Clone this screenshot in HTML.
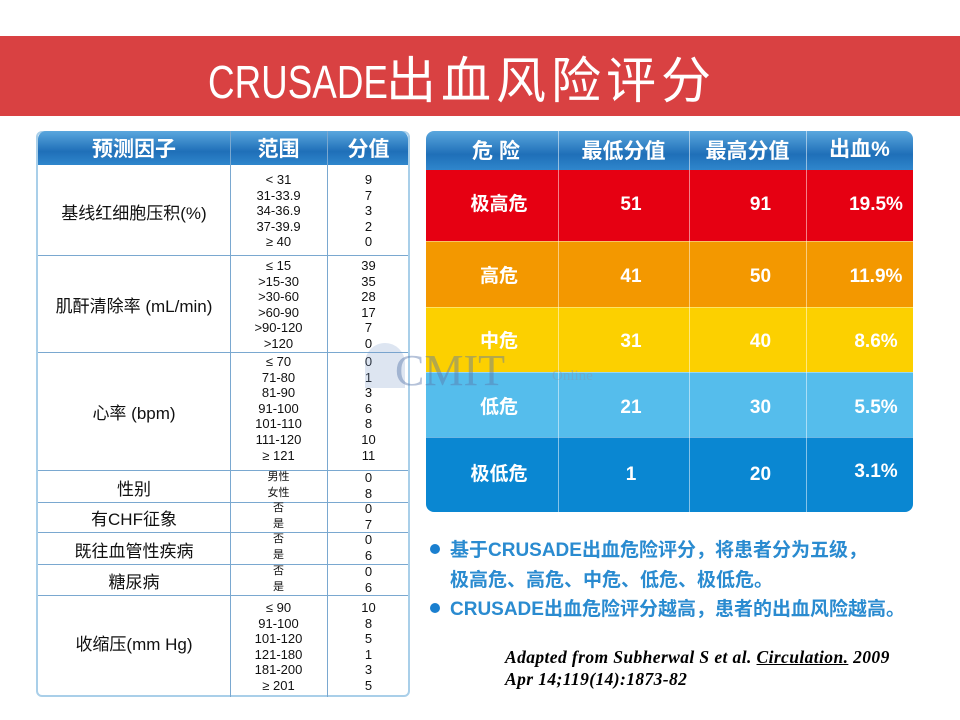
<!DOCTYPE html>
<html><head><meta charset="utf-8"><style>
*{margin:0;padding:0;box-sizing:border-box}
body{width:960px;height:720px;background:#fff;position:relative;overflow:hidden;font-family:"Liberation Sans","Noto Sans CJK SC",sans-serif}
.a{position:absolute}
.bar{left:0;top:36px;width:960px;height:80px;background:#d94142}
.title{left:208px;top:56px;height:50px;color:#fff;line-height:50px;white-space:nowrap}
.lt{left:36px;top:131px;width:374px;height:566px;border:2px solid #a9cfe9;border-radius:6px;background:#fff}
.hdr{background:linear-gradient(#5aa7de,#1f6fb8 60%,#2f86cc);color:#fff;font-weight:bold;text-align:center}
.hl{background:#7aa8d0}
.cell{text-align:center;font-size:13px;line-height:15.6px;color:#111}
.lab{text-align:center;font-size:17px;color:#111}
.rc{color:#fff;font-weight:bold;font-size:19px;line-height:22px;height:22px;text-align:center}
</style></head><body>
<div class="a bar"></div>
<div class="a title"><span style="display:inline-block;transform:scaleX(0.8);transform-origin:left;font-size:46px;width:178px;overflow:visible">CRUSADE</span><span style="font-size:50px;letter-spacing:5px">出血风险评分</span></div>

<!-- left table -->
<div class="a lt"></div>
<div class="a hdr" style="left:38px;top:131px;width:370px;height:34px;border-radius:8px 8px 0 0"></div>
<div class="a" style="left:38px;top:133px;width:192px;text-align:center;color:#fff;font-size:21px;font-weight:bold">预测因子</div>
<div class="a" style="left:230px;top:133px;width:97px;text-align:center;color:#fff;font-size:21px;font-weight:bold">范围</div>
<div class="a" style="left:327px;top:133px;width:83px;text-align:center;color:#fff;font-size:21px;font-weight:bold">分值</div>
<div class="a hl" style="left:230px;top:131px;width:1px;height:566px"></div>
<div class="a hl" style="left:327px;top:131px;width:1px;height:566px"></div>
<div class="a hl" style="left:38px;top:255px;width:370px;height:1px"></div>
<div class="a hl" style="left:38px;top:352px;width:370px;height:1px"></div>
<div class="a hl" style="left:38px;top:470px;width:370px;height:1px"></div>
<div class="a hl" style="left:38px;top:502px;width:370px;height:1px"></div>
<div class="a hl" style="left:38px;top:532px;width:370px;height:1px"></div>
<div class="a hl" style="left:38px;top:564px;width:370px;height:1px"></div>
<div class="a hl" style="left:38px;top:595px;width:370px;height:1px"></div>

<div class="a lab" style="left:38px;top:199px;width:192px">基线红细胞压积(%)</div>
<div class="a cell" style="left:230px;top:172px;width:97px">&lt; 31<br>31-33.9<br>34-36.9<br>37-39.9<br>≥ 40</div>
<div class="a cell" style="left:327px;top:172px;width:83px">9<br>7<br>3<br>2<br>0</div>

<div class="a lab" style="left:38px;top:292px;width:192px">肌酐清除率 (mL/min)</div>
<div class="a cell" style="left:230px;top:258px;width:97px">≤ 15<br>&gt;15-30<br>&gt;30-60<br>&gt;60-90<br>&gt;90-120<br>&gt;120</div>
<div class="a cell" style="left:327px;top:258px;width:83px">39<br>35<br>28<br>17<br>7<br>0</div>

<div class="a lab" style="left:38px;top:399px;width:192px">心率 (bpm)</div>
<div class="a cell" style="left:230px;top:354px;width:97px">≤ 70<br>71-80<br>81-90<br>91-100<br>101-110<br>111-120<br>≥ 121</div>
<div class="a cell" style="left:327px;top:354px;width:83px">0<br>1<br>3<br>6<br>8<br>10<br>11</div>

<div class="a lab" style="left:38px;top:475px;width:192px">性别</div>
<div class="a cell" style="left:230px;top:470px;width:97px;font-size:11px">男性<br>女性</div>
<div class="a cell" style="left:327px;top:470px;width:83px">0<br>8</div>

<div class="a lab" style="left:38px;top:505px;width:192px">有CHF征象</div>
<div class="a cell" style="left:230px;top:501px;width:97px;font-size:11px">否<br>是</div>
<div class="a cell" style="left:327px;top:501px;width:83px">0<br>7</div>

<div class="a lab" style="left:38px;top:537px;width:192px">既往血管性疾病</div>
<div class="a cell" style="left:230px;top:532px;width:97px;font-size:11px">否<br>是</div>
<div class="a cell" style="left:327px;top:532px;width:83px">0<br>6</div>

<div class="a lab" style="left:38px;top:568px;width:192px">糖尿病</div>
<div class="a cell" style="left:230px;top:564px;width:97px;font-size:11px">否<br>是</div>
<div class="a cell" style="left:327px;top:564px;width:83px">0<br>6</div>

<div class="a lab" style="left:38px;top:630px;width:192px">收缩压(mm Hg)</div>
<div class="a cell" style="left:230px;top:600px;width:97px">≤ 90<br>91-100<br>101-120<br>121-180<br>181-200<br>≥ 201</div>
<div class="a cell" style="left:327px;top:600px;width:83px">10<br>8<br>5<br>1<br>3<br>5</div>

<!-- right table -->
<div class="a hdr" style="left:426px;top:131px;width:487px;height:39px;border-radius:8px 8px 0 0"></div>
<div class="a" style="left:426px;top:170px;width:487px;height:71px;background:#e60012"></div>
<div class="a" style="left:426px;top:241px;width:487px;height:66px;background:#f39800"></div>
<div class="a" style="left:426px;top:307px;width:487px;height:65px;background:#fcd000"></div>
<div class="a" style="left:426px;top:372px;width:487px;height:65px;background:#55bdec"></div>
<div class="a" style="left:426px;top:437px;width:487px;height:75px;background:#0a87d2;border-radius:0 0 8px 8px"></div>
<div class="a" style="left:558px;top:131px;width:1px;height:381px;background:rgba(255,255,255,.5)"></div>
<div class="a" style="left:689px;top:131px;width:1px;height:381px;background:rgba(255,255,255,.5)"></div>
<div class="a" style="left:806px;top:131px;width:1px;height:381px;background:rgba(255,255,255,.5)"></div>
<div class="a" style="left:426px;top:241px;width:487px;height:1px;background:rgba(255,255,255,.4)"></div>
<div class="a" style="left:426px;top:307px;width:487px;height:1px;background:rgba(255,255,255,.4)"></div>
<div class="a" style="left:426px;top:372px;width:487px;height:1px;background:rgba(255,255,255,.4)"></div>
<div class="a" style="left:426px;top:437px;width:487px;height:1px;background:rgba(255,255,255,.4)"></div>

<div class="a rc" style="left:426px;top:141px;width:146px;font-size:21px;letter-spacing:6px">危险</div>
<div class="a rc" style="left:558px;top:141px;width:131px;font-size:21px">最低分值</div>
<div class="a rc" style="left:689px;top:141px;width:117px;font-size:21px">最高分值</div>
<div class="a rc" style="left:806px;top:139px;width:107px;font-size:21px">出血%</div>

<div class="a rc" style="left:426px;top:194px;width:146px">极高危</div>
<div class="a rc" style="left:558px;top:194px;width:146px">51</div>
<div class="a rc" style="left:689px;top:194px;width:143px">91</div>
<div class="a rc" style="left:806px;top:194px;width:140px">19.5%</div>

<div class="a rc" style="left:426px;top:266px;width:146px">高危</div>
<div class="a rc" style="left:558px;top:266px;width:146px">41</div>
<div class="a rc" style="left:689px;top:266px;width:143px">50</div>
<div class="a rc" style="left:806px;top:266px;width:140px">11.9%</div>

<div class="a rc" style="left:426px;top:331px;width:146px">中危</div>
<div class="a rc" style="left:558px;top:331px;width:146px">31</div>
<div class="a rc" style="left:689px;top:331px;width:143px">40</div>
<div class="a rc" style="left:806px;top:331px;width:140px">8.6%</div>

<div class="a rc" style="left:426px;top:397px;width:146px">低危</div>
<div class="a rc" style="left:558px;top:397px;width:146px">21</div>
<div class="a rc" style="left:689px;top:397px;width:143px">30</div>
<div class="a rc" style="left:806px;top:397px;width:140px">5.5%</div>

<div class="a rc" style="left:426px;top:464px;width:146px">极低危</div>
<div class="a rc" style="left:558px;top:464px;width:146px">1</div>
<div class="a rc" style="left:689px;top:464px;width:143px">20</div>
<div class="a rc" style="left:806px;top:461px;width:140px">3.1%</div>

<!-- watermark -->
<div class="a" style="left:365px;top:343px;width:40px;height:45px;border-radius:20px 20px 0 0;background:rgba(120,150,200,.25)"></div>
<div class="a" style="left:395px;top:345px;font-family:'Liberation Serif',serif;font-size:44px;color:rgba(90,120,170,.45)">CMIT</div>
<div class="a" style="left:552px;top:368px;font-family:'Liberation Serif',serif;font-size:15px;color:rgba(130,150,180,.45)">Online</div>

<!-- bullets -->
<div class="a" style="left:430px;top:536px;font-size:19px;font-weight:bold;color:#2a8bd0;line-height:29.5px;white-space:nowrap">
<div><span style="display:inline-block;width:10px;height:10px;border-radius:50%;background:#1a7fcf;margin-right:10px;vertical-align:2px"></span>基于CRUSADE出血危险评分，将患者分为五级，</div>
<div style="padding-left:20px">极高危、高危、中危、低危、极低危。</div>
<div><span style="display:inline-block;width:10px;height:10px;border-radius:50%;background:#1a7fcf;margin-right:10px;vertical-align:2px"></span>CRUSADE出血危险评分越高，患者的出血风险越高。</div>
</div>

<div class="a" style="left:505px;top:646px;font-family:'Liberation Serif',serif;font-style:italic;font-weight:bold;font-size:17.5px;line-height:22px;color:#000;white-space:nowrap;letter-spacing:0.4px">Adapted from Subherwal S et al. <u>Circulation.</u> 2009<br>Apr 14;119(14):1873-82</div>
</body></html>
